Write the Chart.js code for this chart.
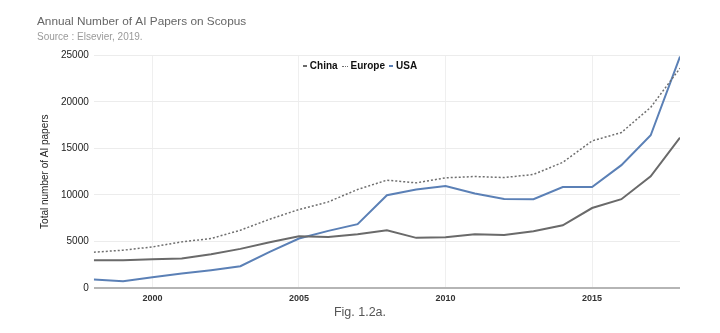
<!DOCTYPE html>
<html>
<head>
<meta charset="utf-8">
<title>Annual Number of AI Papers on Scopus</title>
<script src="https://cdn.jsdelivr.net/npm/chart.js@4.4.1/dist/chart.umd.min.js"></script>
<style>
    body { margin: 0; background: #fff; }
    #wrap { position: relative; width: 720px; height: 333px; }
    #legend {
        position: absolute; top: 60px; left: 0; width: 720px; text-align: center;
        font: bold 10px "Liberation Sans", Arial, sans-serif; color: #111;
    }
    #legend .item { display: inline-block; margin: 0 2px; }
    #legend .mark { display: inline-block; width: 4px; vertical-align: middle; margin-right: 3px; }
    #caption {
        position: absolute; top: 305px; left: 0; width: 720px; text-align: center;
        font: 12.5px "Liberation Sans Narrow", "Liberation Sans", Arial, sans-serif; color: #555;
    }
</style>
</head>
<body>
<div id="wrap">
    <canvas id="chart"></canvas>
    <div id="legend"></div>
    <div id="caption">Fig. 1.2a.</div>
</div>
<script>
// données
const years = [1998, 1999, 2000, 2001, 2002, 2003, 2004, 2005, 2006, 2007, 2008,
               2009, 2010, 2011, 2012, 2013, 2014, 2015, 2016, 2017, 2018];
const china = [3000, 3000, 3100, 3180, 3650, 4220, 4940, 5580, 5500, 5790, 6220,
               5400, 5470, 5790, 5720, 6100, 6750, 8600, 9550, 12000, 16150];
const europe = [3860, 4080, 4430, 4970, 5330, 6220, 7400, 8440, 9260, 10590, 11590,
                11300, 11840, 11980, 11870, 12200, 13500, 15800, 16700, 19400, 23600];
const usa = [930, 750, 1180, 1570, 1930, 2360, 3900, 5330, 6150, 6870, 9980,
             10590, 10950, 10160, 9580, 9550, 10850, 10850, 13200, 16400, 24850];
const xTicks = [2000, 2005, 2010, 2015];
const yTicks = [0, 5000, 10000, 15000, 20000, 25000];

const seriesNames = ["China", "Europe", "USA"];
const seriesColors = ["#6a6a6a", "#6f6f6f", "#5b80b6"];

function toPoints(values) {
    return values.map((v, i) => ({x: years[i], y: v}));
}

const font = "'Liberation Sans', Arial, sans-serif";

const ctx = document.getElementById('chart').getContext('2d');
const chart = new Chart(ctx, {
    type: 'line',
    data: {
        datasets: [
            {label: seriesNames[0], data: toPoints(china), borderColor: seriesColors[0], borderWidth: 2},
            {label: seriesNames[1], data: toPoints(europe), borderColor: seriesColors[1], borderWidth: 1.5, borderDash: [2, 2]},
            {label: seriesNames[2], data: toPoints(usa), borderColor: seriesColors[2], borderWidth: 2}
        ]
    },
    options: {
        responsive: true,
        maintainAspectRatio: false,
        animation: false,
        elements: { point: { radius: 0 }, line: { tension: 0 } },
        layout: { padding: { left: 37, right: 40, top: 0, bottom: 24 } },
        plugins: {
            legend: { display: false },
            tooltip: { enabled: false },
            title: {
                display: true, text: 'Annual Number of AI Papers on Scopus', align: 'start',
                color: '#666', font: { family: font, size: 11.8, weight: 'normal' },
                padding: { top: 15, bottom: 1 }
            },
            subtitle: {
                display: true, text: 'Source : Elsevier, 2019.', align: 'start',
                color: '#9a9a9a', font: { family: font, size: 10 },
                padding: { top: 1, bottom: 12 }
            }
        },
        scales: {
            x: {
                type: 'linear', min: 1998, max: 2018,
                afterBuildTicks: axis => { axis.ticks = xTicks.map(v => ({value: v})); },
                ticks: {
                    color: '#333', font: { family: font, size: 9, weight: 'bold' }, padding: 5,
                    callback: v => String(v), maxRotation: 0
                },
                grid: { color: '#efefef', drawTicks: false },
                border: { display: false }
            },
            y: {
                min: 0, max: 25000,
                afterBuildTicks: axis => { axis.ticks = yTicks.map(v => ({value: v})); },
                ticks: {
                    color: '#222', font: { family: font, size: 10 }, padding: 5,
                    callback: v => String(v)
                },
                grid: {
                    drawTicks: false,
                    color: c => c.tick && c.tick.value === 0 ? '#b5b5b5' : '#ececec',
                    lineWidth: c => c.tick && c.tick.value === 0 ? 2 : 1
                },
                border: { display: false },
                title: {
                    display: true, text: 'Total number of AI papers', color: '#222',
                    font: { family: font, size: 10 }, padding: { top: 2, bottom: 5 }
                }
            }
        }
    }
});

// légende en HTML, centrée sur la page
const legend = document.getElementById('legend');
seriesNames.forEach((name, i) => {
    const item = document.createElement('span');
    item.className = 'item';
    const mark = document.createElement('span');
    mark.className = 'mark';
    if (i === 1) {
        mark.style.borderTop = '1.5px dotted ' + seriesColors[i];
        mark.style.width = '6px';
    } else {
        mark.style.borderTop = '2px solid ' + seriesColors[i];
    }
    item.appendChild(mark);
    item.appendChild(document.createTextNode(name));
    legend.appendChild(item);
});
</script>
</body>
</html>
